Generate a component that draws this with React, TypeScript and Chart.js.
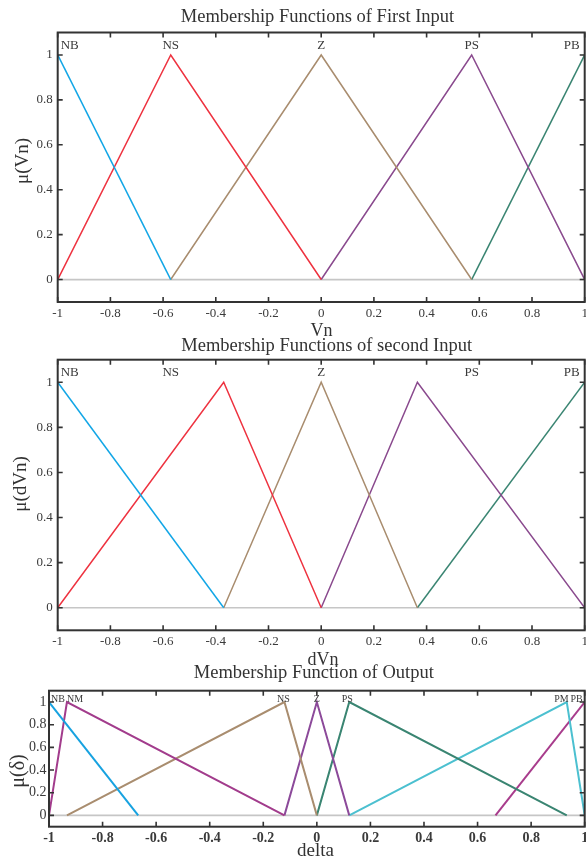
import React, { useEffect, useRef } from "react";
import { Chart, registerables } from "chart.js";

Chart.register(...registerables);

// Triangular membership functions, trimf parameters [a, b, c]
const VN_NB = [-1, -1, -0.571];
const VN_NS = [-1, -0.571, 0];
const VN_Z = [-0.571, 0, 0.571];
const VN_PS = [0, 0.571, 1];
const VN_PB = [0.571, 1, 1];

const DVN_NB = [-1, -1, -0.37];
const DVN_NS = [-1, -0.37, 0];
const DVN_Z = [-0.37, 0, 0.365];
const DVN_PS = [0, 0.365, 1];
const DVN_PB = [0.365, 1, 1];

const OUT_NB = [-1, -1, -0.667];
const OUT_NM = [-1, -0.933, -0.121];
const OUT_NS = [-0.933, -0.121, 0];
const OUT_Z = [-0.121, 0, 0.121];
const OUT_PS = [0, 0.121, 0.933];
const OUT_PM = [0.121, 0.933, 1];
const OUT_PB = [0.667, 1, 1];

// Linguistic term names and where their names sit on the x axis
const INPUT_TERMS = ["NB", "NS", "Z", "PS", "PB"];
const INPUT_TERM_X = [-1, -0.571, 0, 0.571, 1];
const OUTPUT_TERMS = ["NB", "NM", "NS", "Z", "PS", "PM", "PB"];
const OUTPUT_TERM_X = [-1, -0.933, -0.121, 0, 0.121, 0.933, 1];

// Axes
const X_RANGE = [-1, 1];
const Y_RANGE = [-0.1, 1.1];
const X_TICKS = [-1, -0.8, -0.6, -0.4, -0.2, 0, 0.2, 0.4, 0.6, 0.8, 1];
const Y_TICKS = [0, 0.2, 0.4, 0.6, 0.8, 1];
const BASELINE_Y = 0;

const SERIF = "'Liberation Serif', 'Times New Roman', serif";
const W = 586;

type Tri = number[];

function trimfPoints([a, b, c]: Tri) {
  const pts = [{ x: a, y: a === b ? 1 : 0 }];
  if (a !== b && b !== c) pts.push({ x: b, y: 1 });
  pts.push({ x: c, y: c === b ? 1 : 0 });
  return pts;
}

const fmt = (v: number) => String(Number(v.toFixed(1)));

interface PlotCfg {
  top: number;
  height: number;
  area: { left: number; top: number; right: number; bottom: number };
  mfs: Tri[];
  colors: string[];
  lineWidth: number;
  terms: string[];
  termX: number[];
  termAlign: CanvasTextAlign[];
  termDx: number[];
  termDy: number;
  termFont: string;
  title: string;
  titleX: number;
  titleY: number;
  xLabel: string;
  xLabelPos: [number, number];
  xLabelFont: string;
  yLabel: string;
  yLabelPos: [number, number];
  yLabelFont: string;
  xTickFont: { size: number; weight?: string };
  yTickFont: { size: number; weight?: string };
  xTickPad: number;
  yTickPad: number;
}

const decorPlugin = {
  id: "decor",
  afterDatasetsDraw(chart: any, _args: any, opts: any) {
    const cfg: PlotCfg = opts.cfg;
    const { ctx, chartArea: a } = chart;
    const xs = chart.scales.x;
    const ys = chart.scales.y;
    ctx.save();

    // box and inward tick marks
    ctx.strokeStyle = "#333333";
    ctx.lineWidth = 2;
    ctx.strokeRect(a.left, a.top, a.right - a.left, a.bottom - a.top);
    ctx.lineWidth = 1.6;
    ctx.beginPath();
    const tl = 5;
    X_TICKS.forEach((v) => {
      const px = xs.getPixelForValue(v);
      ctx.moveTo(px, a.bottom);
      ctx.lineTo(px, a.bottom - tl);
      ctx.moveTo(px, a.top);
      ctx.lineTo(px, a.top + tl);
    });
    Y_TICKS.forEach((v) => {
      const py = ys.getPixelForValue(v);
      ctx.moveTo(a.left, py);
      ctx.lineTo(a.left + tl, py);
      ctx.moveTo(a.right, py);
      ctx.lineTo(a.right - tl, py);
    });
    ctx.stroke();

    // term names above the peaks
    ctx.fillStyle = "#3a3a3a";
    ctx.font = cfg.termFont;
    ctx.textBaseline = "alphabetic";
    const peakY = ys.getPixelForValue(1);
    cfg.terms.forEach((t, i) => {
      ctx.textAlign = cfg.termAlign[i];
      ctx.fillText(t, xs.getPixelForValue(cfg.termX[i]) + cfg.termDx[i], peakY - cfg.termDy);
    });

    // title and axis titles
    ctx.fillStyle = "#333333";
    ctx.textAlign = "center";
    ctx.textBaseline = "middle";
    ctx.font = `18.5px ${SERIF}`;
    ctx.fillText(cfg.title, cfg.titleX, cfg.titleY);
    ctx.font = cfg.xLabelFont;
    ctx.fillText(cfg.xLabel, cfg.xLabelPos[0], cfg.xLabelPos[1]);
    ctx.save();
    ctx.translate(cfg.yLabelPos[0], cfg.yLabelPos[1]);
    ctx.rotate(-Math.PI / 2);
    ctx.font = cfg.yLabelFont;
    ctx.fillText(cfg.yLabel, 0, 0);
    ctx.restore();

    ctx.restore();
  },
};

function MfPlot({ cfg }: { cfg: PlotCfg }) {
  const ref = useRef<HTMLCanvasElement | null>(null);

  useEffect(() => {
    const canvas = ref.current;
    if (!canvas) return;
    const datasets: any[] = cfg.mfs.map((mf, i) => ({
      data: trimfPoints(mf),
      borderColor: cfg.colors[i],
      borderWidth: cfg.lineWidth,
      showLine: true,
      pointRadius: 0,
      fill: false,
    }));
    datasets.push({
      data: [
        { x: X_RANGE[0], y: BASELINE_Y },
        { x: X_RANGE[1], y: BASELINE_Y },
      ],
      borderColor: "#c6c6c6",
      borderWidth: 1.7,
      showLine: true,
      pointRadius: 0,
      fill: false,
    });

    const tickColor = "#3a3a3a";
    const chart = new Chart(canvas, {
      type: "scatter",
      data: { datasets },
      plugins: [decorPlugin],
      options: {
        responsive: false,
        animation: false,
        events: [],
        layout: {
          padding: { top: cfg.area.top, left: 0, right: W - cfg.area.right, bottom: 0 },
        },
        plugins: {
          legend: { display: false },
          tooltip: { enabled: false },
          title: { display: false },
          decor: { cfg },
        } as any,
        scales: {
          x: {
            type: "linear",
            min: X_RANGE[0],
            max: X_RANGE[1],
            grid: { display: false, drawTicks: false },
            border: { display: false },
            ticks: {
              autoSkip: false,
              maxRotation: 0,
              padding: cfg.xTickPad,
              color: tickColor,
              font: { family: SERIF, size: cfg.xTickFont.size, weight: cfg.xTickFont.weight as any },
              callback: (v: any) => fmt(Number(v)),
            },
            afterBuildTicks: (s: any) => {
              s.ticks = X_TICKS.map((v) => ({ value: v }));
            },
            afterFit: (s: any) => {
              s.height = cfg.height - cfg.area.bottom;
              s.paddingLeft = 0;
              s.paddingRight = 0;
            },
          },
          y: {
            type: "linear",
            min: Y_RANGE[0],
            max: Y_RANGE[1],
            grid: { display: false, drawTicks: false },
            border: { display: false },
            ticks: {
              autoSkip: false,
              padding: cfg.yTickPad,
              color: tickColor,
              font: { family: SERIF, size: cfg.yTickFont.size, weight: cfg.yTickFont.weight as any },
              callback: (v: any) => fmt(Number(v)),
            },
            afterBuildTicks: (s: any) => {
              s.ticks = Y_TICKS.map((v) => ({ value: v }));
            },
            afterFit: (s: any) => {
              s.width = cfg.area.left;
              s.paddingTop = 0;
              s.paddingBottom = 0;
            },
          },
        },
      },
    });
    return () => chart.destroy();
  }, [cfg]);

  return (
    <canvas
      ref={ref}
      width={W}
      height={cfg.height}
      style={{ position: "absolute", left: 0, top: cfg.top, width: W, height: cfg.height }}
    />
  );
}

const INPUT_COLORS = ["#12a6e6", "#ee3340", "#a98d6f", "#8a4a8e", "#3a8572"];
const OUTPUT_COLORS = ["#17a2e0", "#a23c8c", "#a98d6f", "#8c4a9a", "#3a8572", "#4cc0d0", "#a83c8c"];

const FIRST: PlotCfg = {
  top: 0,
  height: 340,
  area: { left: 57.7, top: 32.5, right: 584.7, bottom: 302 },
  mfs: [VN_NB, VN_NS, VN_Z, VN_PS, VN_PB],
  colors: INPUT_COLORS,
  lineWidth: 1.5,
  terms: INPUT_TERMS,
  termX: INPUT_TERM_X,
  termAlign: ["left", "center", "center", "center", "right"],
  termDx: [3, 0, 0, 0, -5],
  termDy: 6,
  termFont: `13px ${SERIF}`,
  title: "Membership Functions of First Input",
  titleX: 317.5,
  titleY: 17.5,
  xLabel: "Vn",
  xLabelPos: [321.5, 331],
  xLabelFont: `18px ${SERIF}`,
  yLabel: "\u03bc(Vn)",
  yLabelPos: [23, 161],
  yLabelFont: `19px ${SERIF}`,
  xTickFont: { size: 13 },
  yTickFont: { size: 13 },
  xTickPad: 3.5,
  yTickPad: 5,
};

const SECOND: PlotCfg = {
  ...FIRST,
  top: 335,
  height: 340,
  area: { left: 57.7, top: 24.7, right: 584.7, bottom: 295.3 },
  mfs: [DVN_NB, DVN_NS, DVN_Z, DVN_PS, DVN_PB],
  title: "Membership Functions of second Input",
  titleX: 326.7,
  titleY: 11,
  xLabel: "dVn",
  xLabelPos: [323, 325],
  yLabel: "\u03bc(dVn)",
  yLabelPos: [21, 149],
};

const OUTPUT: PlotCfg = {
  top: 662,
  height: 200,
  area: { left: 49, top: 28.7, right: 584.7, bottom: 164.7 },
  mfs: [OUT_NB, OUT_NM, OUT_NS, OUT_Z, OUT_PS, OUT_PM, OUT_PB],
  colors: OUTPUT_COLORS,
  lineWidth: 2,
  terms: OUTPUT_TERMS,
  termX: OUTPUT_TERM_X,
  termAlign: ["left", "left", "center", "center", "center", "right", "right"],
  termDx: [2, 0, -1, 0, -2, 2, -2],
  termDy: 0.5,
  termFont: `10px ${SERIF}`,
  title: "Membership Function of Output",
  titleX: 313.8,
  titleY: 11,
  xLabel: "delta",
  xLabelPos: [315.5, 189],
  xLabelFont: `19px ${SERIF}`,
  yLabel: "\u03bc(\u03b4)",
  yLabelPos: [19, 109],
  yLabelFont: `20px ${SERIF}`,
  xTickFont: { size: 14, weight: "bold" },
  yTickFont: { size: 14 },
  xTickPad: 3,
  yTickPad: 2.5,
};

export default function App() {
  return (
    <div style={{ position: "absolute", left: 0, top: 0, width: W, height: 862, background: "#ffffff" }}>
      <MfPlot cfg={FIRST} />
      <MfPlot cfg={SECOND} />
      <MfPlot cfg={OUTPUT} />
    </div>
  );
}
